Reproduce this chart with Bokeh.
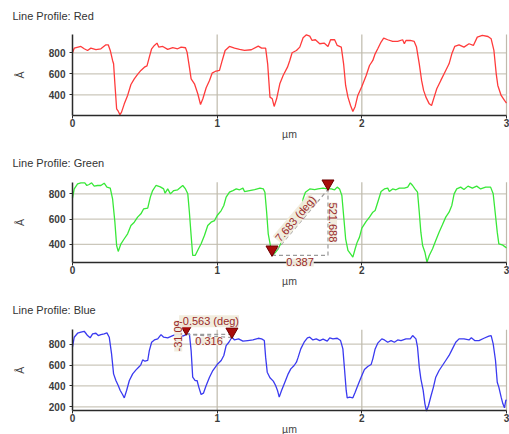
import math
from bokeh.plotting import figure
from bokeh.layouts import column
from bokeh.models import Label, FixedTicker, Range1d
from bokeh.embed import file_html
from bokeh.resources import INLINE

# ---------------- data ----------------
x_ticks = [0, 1, 2, 3]
red_ticks = [400, 600, 800]
green_ticks = [400, 600, 800]
blue_ticks = [200, 400, 600, 800]

red_x = [0.000, 0.012, 0.058, 0.081, 0.104, 0.127, 0.162, 0.196, 0.231, 0.247, 0.261, 0.277, 0.284,
         0.293, 0.305, 0.316, 0.328, 0.339, 0.358, 0.381, 0.404, 0.427, 0.450, 0.473, 0.497, 0.515,
         0.531, 0.547, 0.566, 0.584, 0.596, 0.624, 0.658, 0.693, 0.727, 0.751, 0.781, 0.792, 0.808,
         0.820, 0.843, 0.866, 0.885, 0.901, 0.924, 0.947, 0.965, 0.986, 1.016, 1.035, 1.055, 1.085,
         1.120, 1.155, 1.189, 1.236, 1.284, 1.307, 1.335, 1.349, 1.365, 1.381, 1.394, 1.411, 1.433,
         1.456, 1.486, 1.502, 1.518, 1.548, 1.571, 1.594, 1.617, 1.640, 1.656, 1.679, 1.709, 1.739,
         1.766, 1.784, 1.812, 1.830, 1.858, 1.874, 1.888, 1.904, 1.922, 1.938, 1.954, 1.972, 2.000,
         2.030, 2.053, 2.076, 2.092, 2.110, 2.133, 2.151, 2.179, 2.213, 2.248, 2.282, 2.294, 2.305,
         2.335, 2.362, 2.378, 2.397, 2.413, 2.427, 2.443, 2.466, 2.482, 2.500, 2.518, 2.546, 2.580,
         2.603, 2.622, 2.642, 2.672, 2.706, 2.741, 2.771, 2.798, 2.833, 2.872, 2.894, 2.913, 2.929,
         2.940, 2.963, 2.986, 3.000]
red_y = [800, 844, 860, 838, 822, 844, 829, 838, 876, 876, 822, 727, 695,
         505, 267, 244, 210, 235, 314, 394, 498, 552, 594, 632, 663, 676,
         759, 838, 870, 892, 854, 860, 832, 848, 838, 854, 848, 806, 663,
         552, 505, 410, 308, 362, 467, 537, 606, 622, 632, 727, 822, 860,
         844, 832, 822, 829, 863, 844, 844, 695, 378, 362, 289, 362, 505,
         584, 663, 727, 800, 822, 854, 943, 971, 959, 917, 924, 886, 892,
         860, 924, 924, 870, 854, 695, 489, 378, 298, 241, 289, 394, 479,
         584, 679, 727, 790, 838, 902, 940, 924, 908, 908, 924, 886, 917,
         917, 908, 854, 695, 537, 442, 378, 314, 298, 378, 457, 537, 632,
         695, 790, 860, 876, 854, 886, 870, 949, 965, 955, 933, 822, 600,
         489, 394, 346, 321]

green_x = [0.000, 0.012, 0.035, 0.058, 0.085, 0.099, 0.115, 0.132, 0.150, 0.173, 0.196, 0.219, 0.238,
           0.261, 0.277, 0.293, 0.305, 0.316, 0.335, 0.358, 0.381, 0.404, 0.427, 0.450, 0.473, 0.492,
           0.520, 0.538, 0.554, 0.577, 0.607, 0.630, 0.640, 0.658, 0.677, 0.700, 0.727, 0.762, 0.781,
           0.797, 0.808, 0.820, 0.831, 0.848, 0.871, 0.889, 0.912, 0.935, 0.958, 0.982, 1.000, 1.028,
           1.046, 1.062, 1.085, 1.109, 1.132, 1.155, 1.178, 1.189, 1.224, 1.259, 1.296, 1.319, 1.330,
           1.342, 1.353, 1.372, 1.388, 1.404, 1.422, 1.456, 1.491, 1.525, 1.560, 1.583, 1.594, 1.610,
           1.640, 1.674, 1.697, 1.732, 1.761, 1.789, 1.812, 1.830, 1.846, 1.862, 1.876, 1.888, 1.904,
           1.927, 1.938, 1.954, 1.968, 1.984, 2.000, 2.030, 2.053, 2.076, 2.092, 2.110, 2.133, 2.156,
           2.179, 2.190, 2.213, 2.236, 2.259, 2.294, 2.317, 2.335, 2.351, 2.367, 2.385, 2.397, 2.408,
           2.420, 2.436, 2.450, 2.466, 2.489, 2.511, 2.534, 2.557, 2.580, 2.603, 2.622, 2.638, 2.656,
           2.683, 2.706, 2.734, 2.764, 2.794, 2.821, 2.856, 2.890, 2.908, 2.924, 2.936, 2.947, 2.970,
           2.993, 3.000]
green_y = [766, 839, 879, 887, 887, 866, 874, 887, 861, 866, 866, 884, 853,
           845, 761, 576, 392, 345, 405, 445, 484, 550, 576, 616, 642, 682,
           687, 774, 826, 866, 855, 839, 805, 839, 800, 826, 832, 866, 839,
           800, 655, 471, 313, 313, 366, 405, 471, 550, 576, 589, 629, 668,
           708, 774, 813, 826, 839, 832, 845, 818, 826, 834, 845, 839, 813,
           655, 484, 366, 318, 339, 366, 445, 524, 589, 642, 668, 761, 813,
           839, 834, 839, 845, 839, 839, 832, 853, 839, 787, 603, 445, 353,
           318, 300, 366, 418, 458, 529, 582, 616, 655, 668, 734, 818, 839,
           845, 818, 839, 832, 845, 845, 853, 887, 866, 839, 813, 655, 497,
           392, 339, 260, 313, 366, 432, 497, 555, 616, 655, 708, 800, 839,
           853, 834, 861, 845, 861, 839, 853, 853, 800, 629, 497, 405, 397,
           379, 371]

blue_x = [0.000, 0.012, 0.035, 0.058, 0.081, 0.092, 0.104, 0.122, 0.139, 0.162, 0.178, 0.196, 0.219,
          0.238, 0.254, 0.270, 0.284, 0.300, 0.316, 0.330, 0.346, 0.358, 0.374, 0.393, 0.416, 0.439,
          0.462, 0.473, 0.485, 0.501, 0.520, 0.531, 0.547, 0.566, 0.589, 0.612, 0.630, 0.658, 0.693,
          0.727, 0.762, 0.785, 0.808, 0.820, 0.831, 0.848, 0.861, 0.873, 0.889, 0.905, 0.924, 0.947,
          0.970, 1.000, 1.028, 1.046, 1.062, 1.081, 1.102, 1.120, 1.148, 1.178, 1.212, 1.247, 1.284,
          1.307, 1.326, 1.335, 1.346, 1.365, 1.388, 1.404, 1.417, 1.429, 1.445, 1.468, 1.491, 1.509,
          1.532, 1.548, 1.560, 1.578, 1.601, 1.624, 1.640, 1.662, 1.685, 1.709, 1.732, 1.761, 1.778,
          1.800, 1.830, 1.853, 1.869, 1.881, 1.892, 1.899, 1.915, 1.938, 1.954, 1.972, 1.995, 2.018,
          2.041, 2.064, 2.076, 2.092, 2.110, 2.138, 2.156, 2.179, 2.202, 2.225, 2.248, 2.271, 2.305,
          2.335, 2.351, 2.374, 2.385, 2.397, 2.408, 2.424, 2.436, 2.447, 2.461, 2.477, 2.495, 2.511,
          2.534, 2.557, 2.580, 2.603, 2.626, 2.649, 2.672, 2.706, 2.741, 2.757, 2.780, 2.810, 2.844,
          2.878, 2.894, 2.908, 2.924, 2.936, 2.947, 2.963, 2.975, 2.986, 2.995, 3.000]
blue_y = [771, 867, 905, 915, 924, 905, 883, 861, 899, 905, 883, 892, 899,
          908, 867, 707, 516, 452, 404, 357, 318, 286, 357, 452, 516, 554,
          586, 605, 650, 637, 644, 739, 819, 841, 851, 892, 867, 861, 883,
          899, 877, 892, 899, 739, 484, 452, 452, 389, 318, 331, 404, 484,
          548, 605, 644, 692, 787, 819, 867, 841, 851, 829, 835, 841, 857,
          851, 835, 676, 532, 478, 446, 404, 357, 293, 357, 436, 516, 564,
          596, 628, 676, 755, 819, 861, 867, 841, 851, 835, 848, 829, 861,
          851, 857, 835, 755, 548, 357, 286, 293, 286, 340, 404, 484, 558,
          586, 605, 660, 755, 810, 851, 841, 819, 835, 819, 841, 835, 851,
          851, 883, 851, 771, 580, 468, 357, 229, 159, 213, 299, 389, 484,
          548, 596, 644, 692, 755, 819, 851, 851, 841, 861, 835, 835, 857,
          877, 883, 803, 644, 436, 389, 293, 229, 191, 261, 267]

# measurement annotations (start point, dx, dy, labels)
green_p1 = (1.379, 313.0)
green_dx, green_dy = 0.387, 521.688
green_labels = ["0.387", "521.688", "7.683 (deg)"]

blue_p1 = (0.786, 895.0)
blue_dx, blue_dy = 0.316, -31.09
blue_labels = ["0.316", "-31.09", "-0.563 (deg)"]

red_range = (203, 974)
green_range = (255, 892)
blue_range = (165, 938)

# ---------------- layout constants (pixels) ----------------
FONT = "Liberation Sans"
W = 509
X_LEFT, X_RIGHT = 72, 506          # pixel columns of x = 0 and x = 3
GRID_H = "#cbc7bb"
GRID_V = "#bfbaac"
AXIS = "#2a2a2a"
ANN_BG = "#f0ebdc"
ANN_TXT = "#9a2a2a"


def full_range(d0, d1, p0, p1, total):
    """Range whose ends sit at the canvas edges, with d0 at pixel p0 and d1 at pixel p1."""
    scale = (p1 - p0) / (d1 - d0)
    return Range1d(d0 - p0 / scale, d1 + (total - p1) / scale)


def make_panel(title, xs, ys, color, yr, ticks, h, vis_top, vis_bottom, title_y, unit_y):
    xr = full_range(x_ticks[0], x_ticks[-1], X_LEFT, X_RIGHT, W)
    yrng = full_range(yr[0], yr[1], h - vis_bottom, h - vis_top, h)
    p = figure(width=W, height=h, x_range=xr, y_range=yrng,
               output_backend="svg", toolbar_location=None, title=None,
               min_border_left=0, min_border_right=0, min_border_top=0, min_border_bottom=0)
    p.outline_line_color = None
    p.background_fill_color = "white"
    p.border_fill_color = "white"
    p.xgrid.visible = False
    p.ygrid.visible = False

    # grid lines limited to the data window
    p.segment(x0=[x_ticks[0]] * len(ticks), x1=[x_ticks[-1]] * len(ticks), y0=ticks, y1=ticks,
              line_color=GRID_H, line_width=1.2)
    p.segment(x0=x_ticks[1:], x1=x_ticks[1:], y0=[yr[0]] * (len(x_ticks) - 1),
              y1=[yr[1]] * (len(x_ticks) - 1), line_color=GRID_V, line_width=1.2)

    xa, ya = p.xaxis[0], p.yaxis[0]
    xa.ticker = FixedTicker(ticks=x_ticks)
    ya.ticker = FixedTicker(ticks=ticks)
    xa.fixed_location = yr[0]
    ya.fixed_location = x_ticks[0]
    xa.bounds = (x_ticks[0], x_ticks[-1])
    ya.bounds = (yr[0], yr[1])
    for ax in (xa, ya):
        ax.axis_line_color = AXIS
        ax.axis_line_width = 1.5
        ax.major_tick_line_color = AXIS
        ax.major_tick_in = 0
        ax.minor_tick_line_color = None
        ax.major_label_text_font = FONT
        ax.major_label_text_font_size = "10px"
        ax.major_label_text_font_style = "bold"
        ax.major_label_text_color = "#3c3c3c"
    xa.major_tick_out = 3
    xa.major_label_standoff = 0
    ya.major_tick_out = 3
    ya.major_label_standoff = 4

    p.line(xs, ys, line_color=color, line_width=1.3)

    p.add_layout(Label(x=12, y=h - title_y, x_units="screen", y_units="screen", text=title,
                       text_font=FONT, text_font_size="11px", text_color="#333333",
                       text_baseline="middle"))
    p.add_layout(Label(x=(x_ticks[0] + x_ticks[-1]) / 2, y=h - unit_y, y_units="screen", text="µm",
                       text_font=FONT, text_font_size="10.5px", text_color="#444444",
                       text_align="center", text_baseline="middle"))
    p.add_layout(Label(x=19, y=(yr[0] + yr[1]) / 2, x_units="screen", text="Å",
                       angle=math.pi / 2, text_font=FONT, text_font_size="10.5px",
                       text_color="#444444", text_align="center", text_baseline="middle"))
    return p, vis_bottom - vis_top


def measure(p, vis_h, yr, p1, dx, dy, labels, rotate_angle):
    x1, y1 = p1
    x2, y2 = x1 + dx, y1 + dy
    dash = dict(line_color="#9a9a9a", line_width=1.2, line_dash="4 3")
    p.line([x1, x2], [y1, y2], **dash)
    p.line([x1, x2], [y1, y1], **dash)
    p.line([x2, x2], [y1, y2], **dash)
    size = 12
    px_y = vis_h / (yr[1] - yr[0])
    off = (size / 2) / px_y
    p.scatter([x1, x2], [y1 + off, y2 + off], marker="inverted_triangle", size=size,
              fill_color="#a80c0c", line_color="#6e0000", line_width=1)
    common = dict(text_font=FONT, text_font_size="11px", text_color=ANN_TXT,
                  background_fill_color=ANN_BG, background_fill_alpha=0.95)
    p.add_layout(Label(x=(x1 + x2) / 2, y=y1, text=labels[0], text_align="center",
                       text_baseline="top", y_offset=-3, **common))
    px_x = (X_RIGHT - X_LEFT) / (x_ticks[-1] - x_ticks[0])
    theta = math.atan2(dy * px_y, dx * px_x) if rotate_angle else 0.0
    if dy > 0:
        p.add_layout(Label(x=x2, y=(y1 + y2) / 2, text=labels[1], angle=-math.pi / 2,
                           text_align="center", text_baseline="bottom", x_offset=1, **common))
        p.add_layout(Label(x=(x1 + x2) / 2, y=(y1 + y2) / 2, text=labels[2], angle=theta,
                           text_align="center", text_baseline="bottom", **common))
    else:
        p.add_layout(Label(x=x1, y=(y1 + y2) / 2, text=labels[1], angle=math.pi / 2,
                           text_align="center", text_baseline="bottom", x_offset=-4, **common))
        p.add_layout(Label(x=(x1 + x2) / 2, y=y1, text=labels[2], angle=theta,
                           text_align="center", text_baseline="bottom", y_offset=7, **common))


p1, vh1 = make_panel("Line Profile: Red", red_x, red_y, "#ff3b3b", red_range, red_ticks,
                     145, 34, 115, 15, 133)
p2, vh2 = make_panel("Line Profile: Green", green_x, green_y, "#38e838", green_range, green_ticks,
                     145, 36.7, 117.3, 17, 135)
p3, vh3 = make_panel("Line Profile: Blue", blue_x, blue_y, "#3a3af0", blue_range, blue_ticks,
                     144, 39.3, 120, 19, 138)

measure(p2, vh2, green_range, green_p1, green_dx, green_dy, green_labels, True)
measure(p3, vh3, blue_range, blue_p1, blue_dx, blue_dy, blue_labels, False)

layout = column(p1, p2, p3, spacing=0)
open("out.html", "w").write(file_html(layout, INLINE))
